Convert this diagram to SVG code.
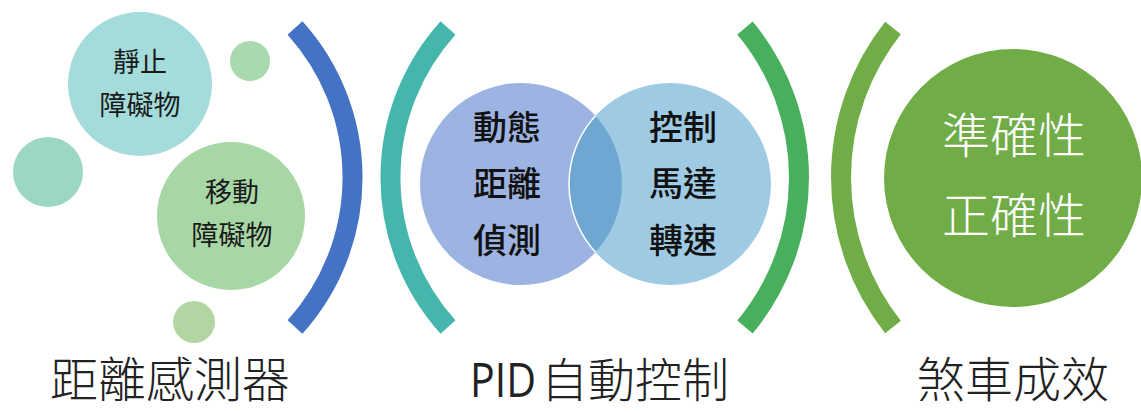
<svg xmlns="http://www.w3.org/2000/svg" width="1141" height="412" viewBox="0 0 1141 412">
<style>
.arc{fill:none;stroke-width:20;stroke-linecap:butt}
.cjk{font-family:"Noto Sans CJK TC","Noto Sans CJK SC",sans-serif}
.small{font-size:27px;fill:#1a1a1a;text-anchor:middle}
.venn{font-size:34px;font-weight:500;fill:#111;text-anchor:middle}
.big{font-size:48px;fill:#ffffff;text-anchor:middle;font-weight:300}
.label{font-size:48px;fill:#222;font-weight:300}
</style>
<rect width="1141" height="412" fill="#ffffff"/>
<g id="sensor-group">
  <circle id="node-static" cx="140" cy="84" r="72" fill="#A3DCDA"/>
  <circle id="dot-top" cx="250" cy="61" r="20" fill="#A9D9AE"/>
  <circle id="dot-left" cx="48" cy="172" r="35" fill="#9CD7C4"/>
  <circle id="node-moving" cx="231" cy="216" r="74" fill="#A8D7A6"/>
  <circle id="dot-bottom" cx="194" cy="322" r="21" fill="#B2D5A2"/>
  <text class="cjk small" x="140" y="72">靜止</text>
  <text class="cjk small" x="140" y="115">障礙物</text>
  <text class="cjk small" x="232" y="202">移動</text>
  <text class="cjk small" x="232" y="245">障礙物</text>
</g>
<g id="connectors">
  <path class="arc" stroke="#4472C4" d="M295,28 A223,223 0 0 1 295,327"/>
  <path class="arc" stroke="#45B6AC" d="M448,28 A223,223 0 0 0 448,327"/>
  <path class="arc" stroke="#48B05C" d="M745,28 A234,234 0 0 1 745,327"/>
  <path class="arc" stroke="#70AD47" d="M893,28 A241,241 0 0 0 893,327"/>
</g>
<g id="pid-group">
  <defs>
    <clipPath id="clipLeft"><circle cx="521" cy="184" r="101"/></clipPath>
  </defs>
  <circle id="node-detect" cx="521" cy="184" r="101" fill="#9DB4E2"/>
  <circle id="node-motor" cx="670" cy="184" r="101" fill="#9ECBE3"/>
  <circle cx="670" cy="184" r="101" fill="#6FA7D3" clip-path="url(#clipLeft)"/>
  <circle cx="670" cy="184" r="101" fill="none" stroke="#ffffff" stroke-width="1.5" clip-path="url(#clipLeft)"/>
  <text class="cjk venn" x="507" y="140">動態</text>
  <text class="cjk venn" x="507" y="196">距離</text>
  <text class="cjk venn" x="507" y="253">偵測</text>
  <text class="cjk venn" x="683" y="140">控制</text>
  <text class="cjk venn" x="683" y="196">馬達</text>
  <text class="cjk venn" x="683" y="253">轉速</text>
</g>
<g id="result-group">
  <circle id="node-result" cx="1013" cy="178" r="129" fill="#70AD47"/>
  <text class="cjk big" x="1014" y="153">準確性</text>
  <text class="cjk big" x="1014" y="233">正確性</text>
</g>
<g id="labels">
  <text class="cjk label" x="170" y="397" text-anchor="middle">距離感測器</text>
  <text class="label" y="397"><tspan x="470" font-family="'Open Sans','Noto Sans',sans-serif" font-weight="400" textLength="66" lengthAdjust="spacingAndGlyphs">PID</tspan><tspan x="541" font-family="'Noto Sans CJK TC','Noto Sans CJK SC',sans-serif" font-size="47px">自動控制</tspan></text>
  <text class="cjk label" x="1013" y="397" text-anchor="middle">煞車成效</text>
</g>
</svg>
